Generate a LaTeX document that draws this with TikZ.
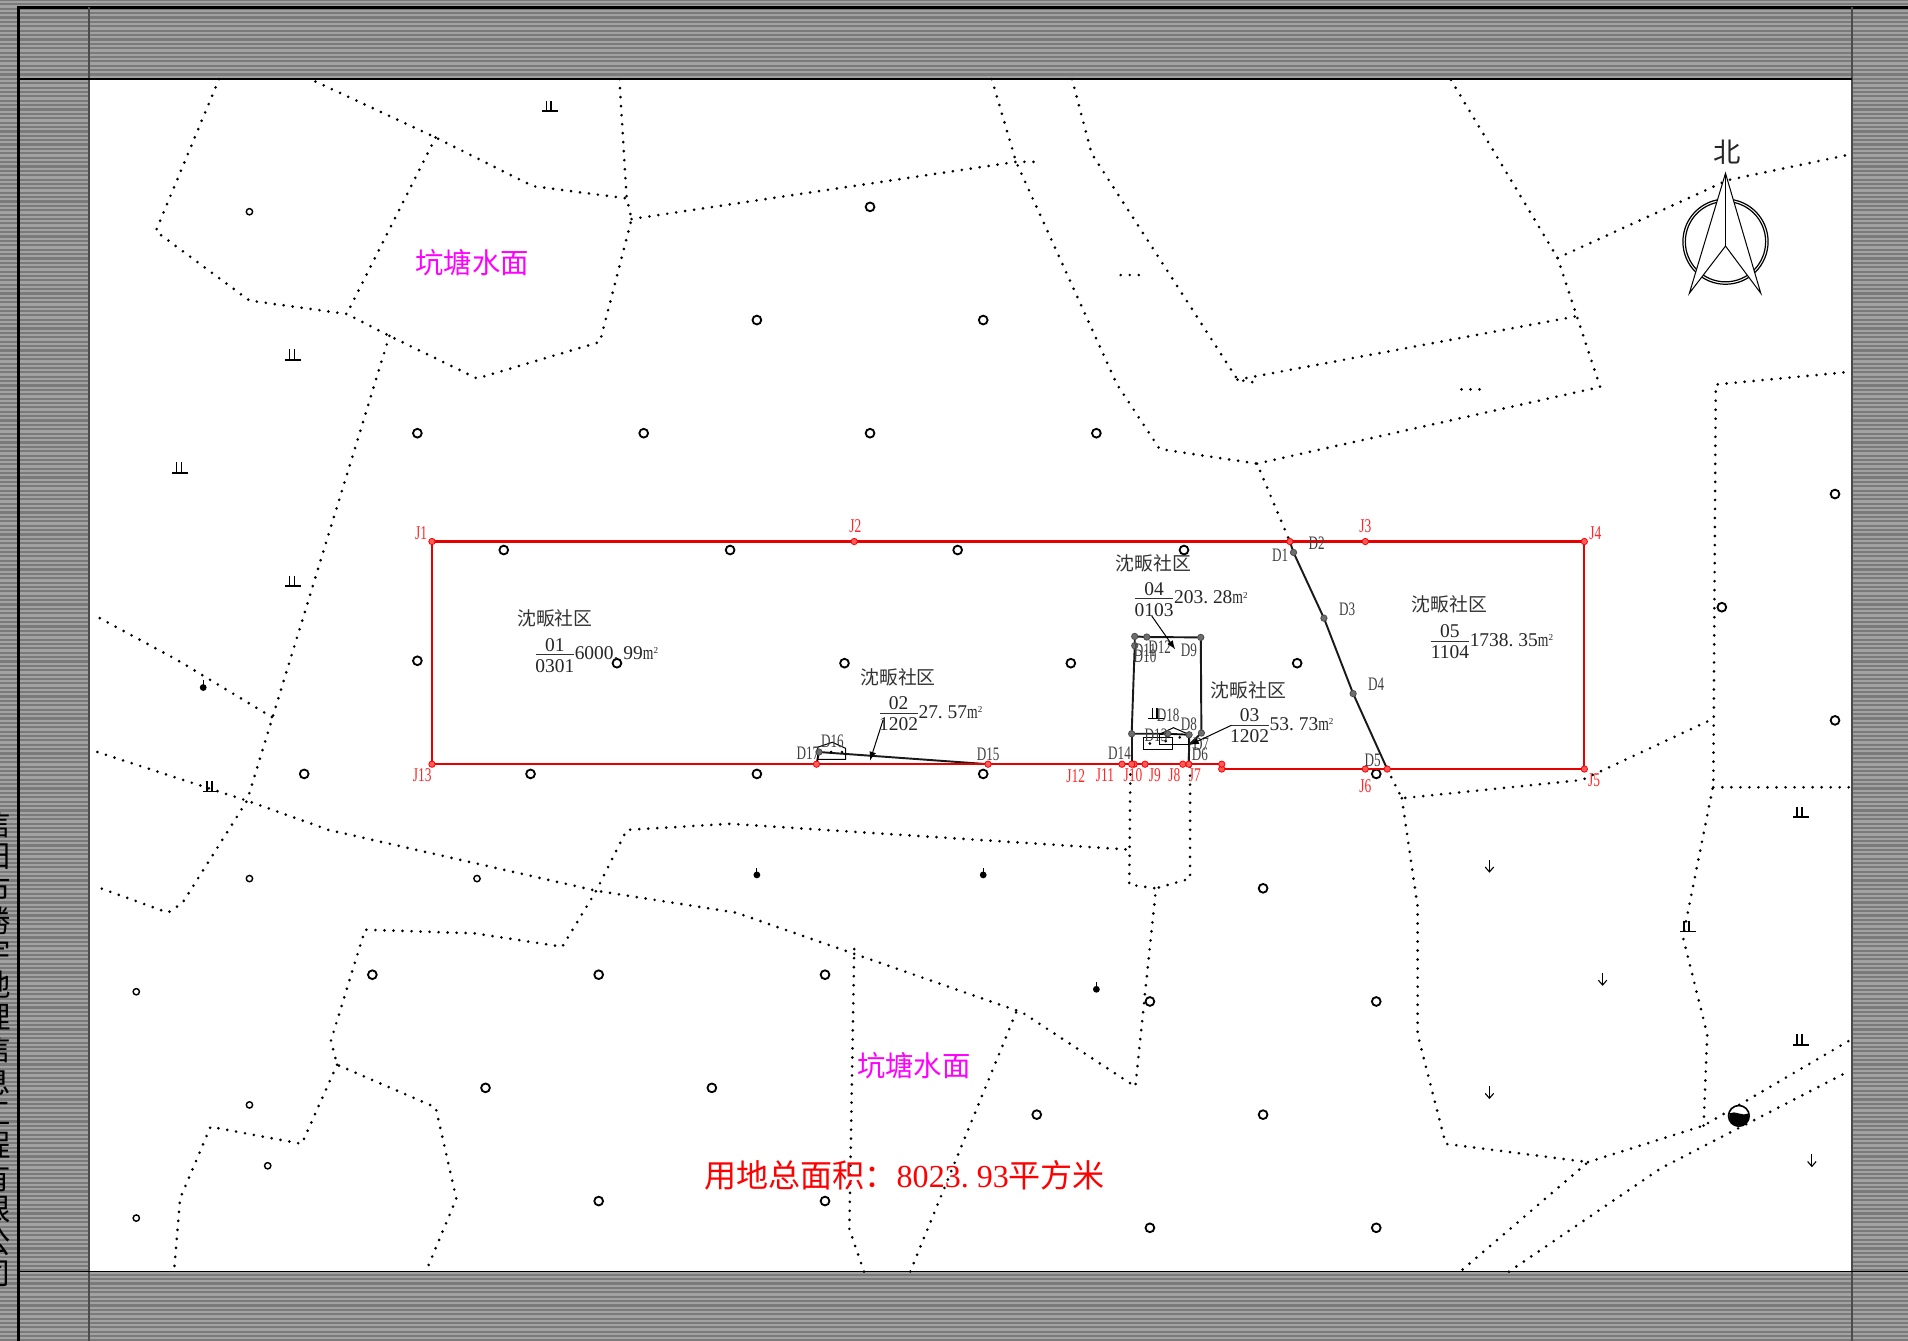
\documentclass[tikz,border=0pt]{standalone}
\usepackage{fontspec}
\setmainfont{Liberation Serif}
\newfontfamily\cjkfont{Noto Sans CJK SC}
\newfontfamily\ptfont[FakeStretch=0.69]{Liberation Serif}

\definecolor{bandgray}{HTML}{7A7A7A}
\definecolor{bandlight}{HTML}{A2A2A2}
\definecolor{redline}{HTML}{E60000}
\definecolor{redpoint}{HTML}{FF5A5A}
\definecolor{pointgray}{HTML}{6E6E6E}
\definecolor{pondpink}{RGB}{255,0,255}

\newcommand{\fulldot}{\makebox[0.5em][l]{.}}
\newcommand{\sqm}{\scalebox{0.7}[1]{m}\raisebox{0.65ex}{\fontsize{4.5pt}{5pt}\selectfont 2}}

\tikzset{
	dotline/.style={line width=1.45pt, line cap=round, dash pattern=on 0pt off 4.45pt},
	redbound/.style={redline, line width=1.1pt},
	blackbound/.style={black!90, line width=0.95pt},
	thinline/.style={black, line width=0.5pt},
	ptlabel/.style={font=\ptfont\fontsize{9.4pt}{9.4pt}\selectfont, text=black!75, inner sep=0pt},
	jlabel/.style={font=\ptfont\fontsize{9.6pt}{9.6pt}\selectfont, text=red!85!white, inner sep=0pt},
	numlabel/.style={font=\fontsize{9.6pt}{10pt}\selectfont, text=black!85, inner sep=0pt},
	ownerlabel/.style={font=\cjkfont\fontsize{9.3pt}{9.5pt}\selectfont, text=black!80, inner sep=0pt},
	pondlabel/.style={font=\cjkfont\fontsize{14pt}{14pt}\selectfont, text=pondpink, inner sep=0pt},
	marshsym/.pic={
		\draw[black, line width=0.8pt] (-3,-5) -- (-3,3.5);
		\draw[black, line width=0.8pt] (1,-5) -- (1,3.5);
		\draw[black, line width=0.9pt] (-6.5,3.5) -- (6.5,3.5);
	},
	arrowsym/.pic={
		\draw[black, line width=0.55pt] (0,-5.5) -- (0,4.5);
		\draw[black, line width=0.55pt] (-3.5,0.5) -- (0,4.5) -- (3.5,0.5);
	},
	stemsym/.pic={
		\fill[black] (0,0) circle (2.8);
		\draw[black, line width=0.6pt] (0,0) -- (0,-6);
	},
}

\begin{document}
\begin{tikzpicture}[x=0.6pt,y=-0.6pt]
	\useasboundingbox (0,0) rectangle (1568,1102);

	% Draw the striped gray sheet
	\fill[bandgray] (0,0) rectangle (1568,1102);
	\foreach \y in {1.8,5.4,...,1102}
		\draw[bandlight, line width=1.1pt] (0,\y) -- (1568,\y);

	% Draw the white map area
	\fill[white] (73,65) rectangle (1522,1045);

	% Draw the frame lines
	\draw[black, line width=1.3pt] (15,1102) -- (15,6) -- (1568,6);
	\draw[black!70, line width=0.7pt] (73,6) -- (73,1102);
	\draw[black!70, line width=0.7pt] (1522,6) -- (1522,1102);
	\draw[black, line width=0.7pt] (15,65) -- (1522,65);
	\draw[black, line width=0.7pt] (15,1045) -- (1568,1045);

	% Draw the company name, cut by the sheet edge
	\foreach \c [count=\i] in {信,阳,市,勝,宇,地,理,信,息,工,程,有,限,公,司}
		\node[font=\cjkfont\fontsize{15pt}{15pt}\selectfont, inner sep=0pt] (name\i) at (-3.7,{651+26.4*\i}) {\c};

	% Draw the dotted field lines, north part
	\draw[dotline] (180,65) -- (128,190) -- (205,247) -- (285,258) -- (320,276) -- (392,311) -- (493,281) -- (519,180) -- (515,163) -- (438,153) -- (358,113) -- (255,65);
	\draw[dotline] (358,113) -- (285,258);
	\draw[dotline] (509,65) -- (515,163);
	\draw[dotline] (519,180) -- (835,133) -- (850,133);
	\draw[dotline] (815,65) -- (835,133) -- (918,316) -- (953,369) -- (1033,381) -- (1060,445);
	\draw[dotline] (1033,381) -- (1315,318) -- (1280,212) -- (1192,65);
	\draw[dotline] (881,65) -- (897,126) -- (1017,312) -- (1035,315);
	\draw[dotline] (1017,312) -- (1295,260);
	\draw[dotline] (1280,212) -- (1420,148) -- (1520,127);
	\draw[dotline] (921,226) -- (942,226);
	\draw[dotline] (1201,320) -- (1222,320);

	% Draw the dotted field lines, west and south part
	\draw[dotline] (320,276) -- (203,658) -- (150,742) -- (138,750) -- (80,729);
	\draw[dotline] (82,508) -- (145,542) -- (228,592);
	\draw[dotline] (80,618) -- (203,658) -- (270,682) -- (490,732) -- (605,750) -- (840,832) -- (933,893) -- (950,730) -- (928,727) -- (929,630);
	\draw[dotline] (978,630) -- (978,722) -- (950,730);
	\draw[dotline] (925,698) -- (600,677) -- (515,682) -- (490,732) -- (462,778) -- (390,767) -- (300,764) -- (272,855) -- (277,875) -- (358,910) -- (375,985) -- (350,1045);
	\draw[dotline] (277,875) -- (248,940) -- (173,926) -- (148,985) -- (143,1045);
	\draw[dotline] (702,780) -- (698,1010) -- (710,1045);
	\draw[dotline] (835,832) -- (748,1045);

	% Draw the dotted field lines, east part
	\draw[dotline] (1140,632) -- (1152,656) -- (1300,641) -- (1405,592);
	\draw[dotline] (1152,656) -- (1165,745) -- (1165,850) -- (1188,940) -- (1305,955) -- (1200,1045);
	\draw[dotline] (1305,955) -- (1400,925) -- (1520,855);
	\draw[dotline] (1240,1045) -- (1365,960) -- (1520,880);
	\draw[dotline] (1400,925) -- (1403,850) -- (1383,770) -- (1408,645) -- (1410,316) -- (1516,306);
	\draw[dotline] (1408,647) -- (1522,647);

	% Add the tree symbols
	\foreach \x/\y in {205/174,205/722,392/722,112/815,205/908,220/958,112/1001}
		\draw[black, line width=0.7pt] (\x,\y) circle (2.6);
	\foreach \x/\y in {715/170,622/263,808/263,343/356,529/356,715/356,901/356,414/452,600/452,787/452,973/452,343/543,507/545,694/545,880/545,1066/545,250/636,436/636,622/636,808/636,1131/636,1038/730,306/801,492/801,678/801,945/823,1131/823,399/894,585/894,852/916,1038/916,492/987,678/987,945/1009,1131/1009,1508/406,1415/499,1508/592}
		\draw[black, line width=0.9pt] (\x,\y) circle (3.6);

	% Add the other land symbols
	\foreach \x/\y in {452/88,241/292,148/385,241/478,173/647,950/587,1480/668,1387/762,1480/855}
		\pic at (\x,\y) {marshsym};
	\foreach \x/\y in {1224/712,1317/805,1224/898,1489/954}
		\pic at (\x,\y) {arrowsym};
	\foreach \x/\y in {167/565,622/719,808/719,901/813}
		\pic at (\x,\y) {stemsym};

	% Draw the well
	\draw[black, line width=0.8pt, fill=white] (1429,917) circle (8.5);
	\fill[black] (1421,915) .. controls (1426,912) and (1432,918) .. (1437,915) arc (-14:194:8.2) -- cycle;

	% Name the red boundary points
	\coordinate (J1) at (355,445);
	\coordinate (J2) at (702,445);
	\coordinate (D2) at (1060,445);
	\coordinate (J3) at (1122,445);
	\coordinate (J4) at (1302,445);
	\coordinate (J5) at (1302,632);
	\coordinate (D5) at (1140,632);
	\coordinate (J6) at (1122,632);
	\coordinate (Jb) at (1004,632);
	\coordinate (Ja) at (1004,628);
	\coordinate (J7) at (977,628);
	\coordinate (J8) at (972,628);
	\coordinate (J9) at (941,628);
	\coordinate (J10) at (932,628);
	\coordinate (J11) at (930,628);
	\coordinate (J12) at (922,628);
	\coordinate (D15) at (812,628);
	\coordinate (D17) at (671,628);
	\coordinate (J13) at (355,628);

	% Name the black parcel points
	\coordinate (D1) at (1063,454);
	\coordinate (D3) at (1088,508);
	\coordinate (D4) at (1112,570);
	\coordinate (D11) at (932.5,523);
	\coordinate (D12) at (942.4,523.5);
	\coordinate (D9) at (986.8,523.8);
	\coordinate (D10) at (932.5,530.6);
	\coordinate (D13) at (930,603);
	\coordinate (D18) at (959.6,603);
	\coordinate (D7) at (977.2,603.8);
	\coordinate (D8) at (987.3,602.4);
	\coordinate (D6) at (977.2,612);
	\coordinate (D14) at (930,628);
	\coordinate (D16) at (673,618);

	% Draw the parcels in black
	\draw[blackbound] (D2) -- (D1) -- (D3) -- (D4) -- (D5);
	\draw[blackbound] (D10) -- (D11) -- (D12) -- (D9) -- (D8) -- (D6) -- (J7);
	\draw[blackbound] (D10) -- (D13) -- (D18) -- (D7) -- (J7);
	\draw[blackbound] (D13) -- (D14);
	\draw[blackbound] (D17) -- (D16) -- (D15);

	% Draw the small houses
	\draw[thinline] (939.6,606) rectangle (963.4,615.8);
	\draw[thinline] (952.8,603.5) rectangle (977,612);
	\draw[thinline] (952.8,603.5) -- (964.3,598) -- (977,603.5);
	\draw[thinline] (672,618) -- (672,614) -- (684,610) -- (695,615) -- (695,624) -- (672,624) -- cycle;
	\foreach \x/\y in {945/611,958/609,969.5/606,683/618,692/618}
		\fill[black] (\x,\y) circle (1.2);

	% Draw the red boundary
	\draw[redbound] (J1) -- (J13) -- (Ja) -- (Jb) -- (J5) -- (J4) -- cycle;

	% Add points for the boundary
	\foreach \p in {J1,J2,D2,J3,J4,J5,D5,J6,Jb,Ja,J7,J8,J9,J10,J11,J12,D15,D17,J13}
		\filldraw[fill=redpoint, draw=red, line width=0.4pt] (\p) circle (2.6);
	\foreach \p in {D1,D3,D4,D11,D12,D9,D10,D13,D18,D7,D8,D16}
		\filldraw[fill=pointgray, draw=black!70, line width=0.4pt] (\p) circle (2.6);

	% Add the point labels
	\foreach \n/\x/\y in {D1/1052/456,D2/1082/446,D3/1107/501,D4/1131/562,D5/1128/625,D6/986/620,D7/987/612,D8/977/595,D9/977/534,D10/941/539,D11/941/534,D12/953/532,D13/950/604,D14/920/619,D15/812/620,D16/684/609,D17/664/619,D18/960/588}
		\node[ptlabel] (lab\n) at (\x,\y) {\n};
	\foreach \n/\x/\y in {J1/346/438,J2/703/432,J3/1122/432,J4/1311/438,J5/1310/641,J6/1122/646,J7/982/637,J8/965/637,J9/949/637,J10/931/637,J11/908/637,J12/884/638,J13/347/637}
		\node[jlabel] (lab\n) at (\x,\y) {\n};

	% Add the parcel labels
	\foreach \p/\x/\y/\code/\ox/\oy/\area in {01/456/538/0301/456/508/6000\fulldot 99,02/738.5/586/1202/738/557/27\fulldot 57,03/1027/596/1202/1026/567/53\fulldot 73,04/948.5/492/0103/948/463/203\fulldot 28,05/1191.5/527/1104/1191/497/1738\fulldot 35}{
		\draw[black!80, line width=0.5pt] ({\x-15.5},\y) -- ({\x+15.5},\y);
		\node[numlabel] (top\p) at (\x,{\y-8}) {\p};
		\node[numlabel] (code\p) at (\x,{\y+9}) {\code};
		\node[numlabel, anchor=west] (area\p) at ({\x+16},{\y-1}) {\area\sqm};
		\node[ownerlabel] (owner\p) at (\ox,\oy) {沈畈社区};
	}

	% Draw the leader arrows
	\draw[-latex, thinline] (725.7,591.7) -- (715,625);
	\draw[-latex, thinline] (1012,596) -- (978,612);
	\draw[-latex, thinline] (946.5,506.2) -- (965.7,533.6);

	% Add the area texts
	\node[pondlabel] (pondA) at (388,216) {坑塘水面};
	\node[pondlabel] (pondB) at (751,876) {坑塘水面};
	\node[inner sep=0pt, text=red, font=\fontsize{15.8pt}{16pt}\selectfont] (total) at (743.5,966) {{\cjkfont 用地总面积：}8023\fulldot 93{\cjkfont 平方米}};

	% Draw the north arrow
	\draw[black, line width=0.6pt] (1418,198.6) circle (35);
	\draw[black, line width=0.6pt] (1418,198.6) circle (33);
	\filldraw[fill=white, draw=black, line width=0.5pt] (1418,142.4) -- (1388.3,241) -- (1418,202.2) -- (1447,241) -- cycle;
	\draw[black, line width=0.5pt] (1418,142.4) -- (1418,202.2);
	\node[inner sep=0pt, font=\cjkfont\fontsize{13.5pt}{13.5pt}\selectfont, text=black!85] (north) at (1419,125) {北};
\end{tikzpicture}
\end{document}
